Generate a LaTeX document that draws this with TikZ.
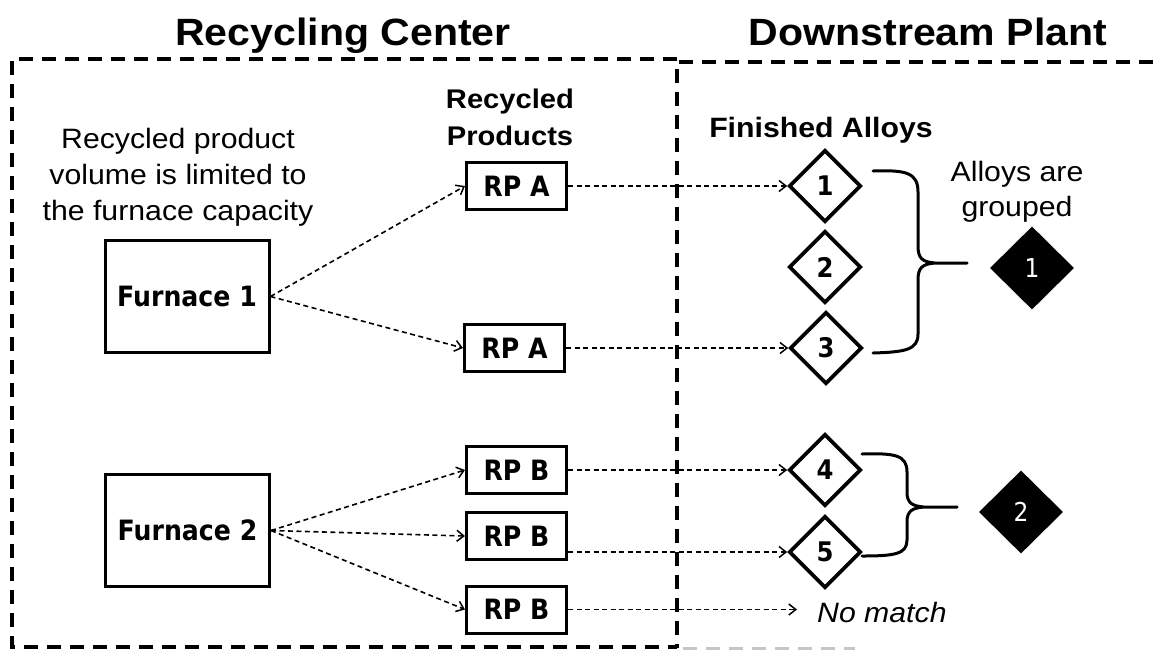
\documentclass[tikz,border=0pt]{standalone}
\usepackage{fontspec}
\setmainfont{Liberation Sans}[FakeStretch=1.08]
\newfontfamily\boxfont{DejaVu Sans}[FakeStretch=0.9]
\usetikzlibrary{shapes.geometric,arrows.meta}
\begin{document}
\begin{tikzpicture}[x=1pt,y=-1pt,
  frame/.style={line width=3.6pt, dash pattern=on 14pt off 9pt},
  furnacebox/.style={draw, line width=3pt, minimum width=164pt, minimum height=112pt, inner sep=0pt, font=\boxfont\bfseries\fontsize{28}{30}\selectfont},
  rpbox/.style={draw, line width=3pt, minimum width=100pt, minimum height=47pt, inner sep=0pt, font=\boxfont\bfseries\fontsize{28}{30}\selectfont},
  alloy/.style={diamond, draw, line width=3.6pt, minimum width=72pt, minimum height=72pt, inner sep=0pt, font=\boxfont\bfseries\fontsize{27}{28}\selectfont},
  group/.style={diamond, fill=black, text=white, minimum width=84pt, minimum height=83pt, inner sep=0pt, font=\boxfont\fontsize{26}{28}\selectfont},
  flow/.style={line width=1.6pt, dash pattern=on 5pt off 3.5pt, -{Straight Barb[length=7pt,width=11pt,line width=1.5pt]}},
  title/.style={font=\bfseries\fontsize{38}{40}\selectfont, inner sep=0pt, anchor=base},
  label/.style={font=\fontsize{28}{36}\selectfont, align=center, inner sep=0pt},
  brace/.style={line width=3pt, line join=round, line cap=round}
]
\useasboundingbox (0,0) rectangle (1153,649);

% frames
\draw[frame] (677,59) -- (12,59) -- (12,647) -- (677,647);
\draw[frame] (1153,62) -- (677,62) -- (677,648);
\draw[frame, gray!45, line width=3pt] (683,648) -- (855,648);

% titles
\node[title] (rctitle) at (343,45) {Recycling Center};
\node[title] (dptitle) at (928,45) {Downstream Plant};

% labels
\node[label] (note) at (178,177) {Recycled product\\volume is limited to\\the furnace capacity};
\node[label, font=\bfseries\fontsize{27}{37}\selectfont] (rphead) at (510,117) {Recycled\\Products};
\node[label, font=\bfseries\fontsize{28}{36}\selectfont, anchor=base] (fahead) at (821,137) {Finished Alloys};
\node[label, font=\fontsize{28}{35}\selectfont] (grouped) at (1017,192) {Alloys are\\grouped};

% furnaces
\node[furnacebox] (f1) at (187,296.5) {Furnace 1};
\node[furnacebox] (f2) at (187.5,530.5) {Furnace 2};

% recycled products
\node[rpbox] (a1) at (516.5,186) {RP A};
\node[rpbox] (a2) at (514.5,348) {RP A};
\node[rpbox] (b1) at (516.5,470) {RP B};
\node[rpbox] (b2) at (516.5,536) {RP B};
\node[rpbox] (b3) at (516.5,609.5) {RP B};

% finished alloys
\node[alloy] (d1) at (825,186) {1};
\node[alloy] (d2) at (825,267) {2};
\node[alloy] (d3) at (826,348) {3};
\node[alloy] (d4) at (825,470) {4};
\node[alloy] (d5) at (825,552) {5};

% groups
\node[group] (g1) at (1032,268) {1};
\node[group] (g2) at (1021,512) {2};

\node[font=\itshape\fontsize{28}{36}\selectfont, inner sep=0pt, anchor=base west] (nm) at (817,622) {No match};

% connectors
\draw[flow] (f1.east) -- (a1.west);
\draw[flow] (f1.east) -- (a2.west);
\draw[flow] (f2.east) -- (b1.west);
\draw[flow] (f2.east) -- (b2.west);
\draw[flow] (f2.east) -- (b3.west);
\draw[flow] (a1.east) -- (d1.west);
\draw[flow] (a2.east) -- (d3.west);
\draw[flow] (b1.east) -- (d4.west);
\draw[flow] (b2.east |- d5.west) -- (d5.west);
\draw[flow, shorten >=20pt] (b3.east) -- (b3.east -| nm.west);

% braces
\draw[brace] (873,171) .. controls (905,170) and (918,172) .. (918,192) -- (918,246)
  .. controls (918,258) and (922,262) .. (935,263) -- (967,263) -- (935,263)
  .. controls (922,264) and (918,268) .. (918,280) -- (918,334)
  .. controls (918,350) and (905,352) .. (873,353);
\draw[brace] (862,454) .. controls (895,453) and (907,455) .. (907,472) -- (907,492)
  .. controls (907,503) and (912,506) .. (924,507) -- (957,507) -- (924,507)
  .. controls (912,508) and (907,511) .. (907,522) -- (907,540)
  .. controls (907,554) and (895,556) .. (862,556);
\end{tikzpicture}
\end{document}
